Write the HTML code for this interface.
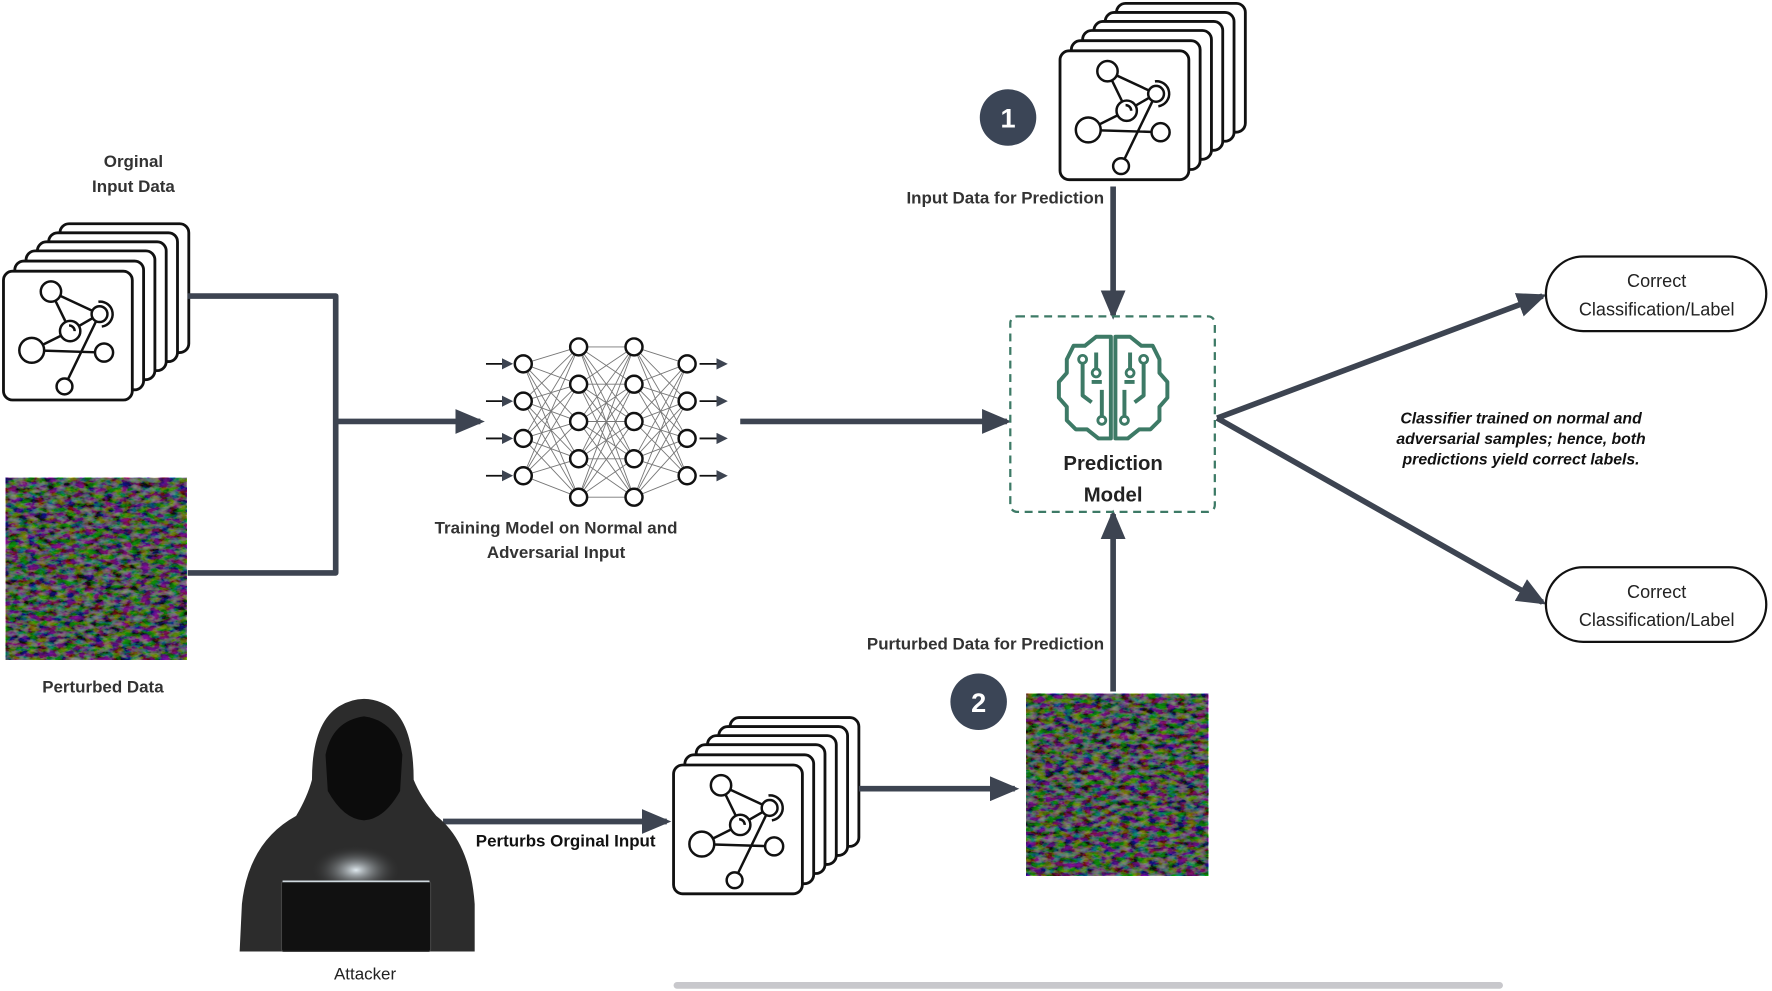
<!DOCTYPE html>
<html><head><meta charset="utf-8"><style>
html,body{margin:0;padding:0;background:#fff;width:1772px;height:991px;overflow:hidden}
svg text{font-family:"Liberation Sans",sans-serif}
</style></head><body>
<svg width="1772" height="991" viewBox="0 0 1568 877" xmlns="http://www.w3.org/2000/svg">
<defs>
<filter id="noise" x="0" y="0" width="100%" height="100%">
<feTurbulence type="fractalNoise" baseFrequency="0.12 0.22" numOctaves="3" seed="4" result="t"/>
<feColorMatrix in="t" type="matrix" values="1.6 0 0.3 0 -0.75  0 2.0 -0.3 0 -0.62  0.3 -0.4 2.0 0 -0.72  0 0 0 0 1"/>
</filter>
<marker id="ah" markerWidth="10" markerHeight="10" refX="8" refY="5" orient="auto" markerUnits="userSpaceOnUse" viewBox="0 0 10 10"><path d="M0,0 L10,5 L0,10 Z" fill="#3d4451"/></marker>
<marker id="ab" markerWidth="26" markerHeight="22" refX="22" refY="11" orient="auto" markerUnits="userSpaceOnUse" viewBox="0 0 26 22"><path d="M0,0 L26,11 L0,22 Z" fill="#3d4451"/></marker>
<g id="cardFront">
<rect x="0" y="0" width="114" height="114" rx="8" fill="#fff" stroke="#111" stroke-width="2.5"/>
<g stroke="#111" stroke-width="2.2" fill="none">
<line x1="42" y1="18" x2="85" y2="38"/><line x1="42" y1="18" x2="59" y2="53"/>
<line x1="59" y1="53" x2="25" y2="70"/><line x1="25" y1="70" x2="89" y2="72"/>
<line x1="59" y1="53" x2="85" y2="38"/><line x1="85" y1="38" x2="54" y2="102"/>
<circle cx="42" cy="18" r="9" fill="#fff"/><circle cx="85" cy="38" r="7" fill="#fff"/>
<path d="M84,27 A11,11 0 0 1 87,49"/>
<circle cx="59" cy="53" r="9" fill="#fff"/><path d="M58,48 A5,5 0 0 1 63,53"/>
<circle cx="25" cy="70" r="11" fill="#fff"/><circle cx="89" cy="72" r="8" fill="#fff"/>
<circle cx="54" cy="102" r="7" fill="#fff"/>
</g></g>
<g id="stack">
<rect x="50" y="-42" width="114" height="114" rx="8" fill="#fff" stroke="#111" stroke-width="2.5"/>
<rect x="40" y="-34" width="114" height="114" rx="8" fill="#fff" stroke="#111" stroke-width="2.5"/>
<rect x="30" y="-26" width="114" height="114" rx="8" fill="#fff" stroke="#111" stroke-width="2.5"/>
<rect x="20" y="-18" width="114" height="114" rx="8" fill="#fff" stroke="#111" stroke-width="2.5"/>
<rect x="10" y="-9" width="114" height="114" rx="8" fill="#fff" stroke="#111" stroke-width="2.5"/>
<use href="#cardFront"/>
</g>
<radialGradient id="glow" cx="0.5" cy="0.5" r="0.5"><stop offset="0" stop-color="#dfe9ef"/><stop offset="1" stop-color="#2a2a2a" stop-opacity="0"/></radialGradient>
</defs>

<use href="#stack" x="3" y="240"/>
<use href="#stack" x="938" y="45"/>
<use href="#stack" x="596" y="677"/>

<rect x="5" y="423" width="160" height="161" fill="#2a3326"/>
<rect x="5" y="423" width="160" height="161" filter="url(#noise)"/>
<rect x="5" y="423" width="160" height="161" fill="#1c2419" opacity="0.45"/>
<rect x="908" y="614" width="161" height="161" fill="#2a3326"/>
<rect x="908" y="614" width="161" height="161" filter="url(#noise)"/>
<rect x="908" y="614" width="161" height="161" fill="#1c2419" opacity="0.45"/>

<g stroke="#3d4451" stroke-width="5" fill="none" stroke-linejoin="round">
<path d="M166,262 H297 V507 H166"/>
<line x1="297" y1="373" x2="425" y2="373" marker-end="url(#ab)"/>
<line x1="655" y1="373" x2="891" y2="373" marker-end="url(#ab)"/>
<line x1="985" y1="165" x2="985" y2="279" marker-end="url(#ab)"/>
<line x1="985" y1="612" x2="985" y2="455" marker-end="url(#ab)"/>
<line x1="1077" y1="370" x2="1365" y2="262" marker-end="url(#ab)"/>
<line x1="1077" y1="370" x2="1365" y2="533" marker-end="url(#ab)"/>
<line x1="392" y1="727" x2="590" y2="727" marker-end="url(#ab)"/>
<line x1="760" y1="698" x2="898" y2="698" marker-end="url(#ab)"/>
</g>

<g stroke="#777" stroke-width="0.8">
<path d="M463,322 L512,307 M463,322 L512,340 M463,322 L512,373 M463,322 L512,406 M463,322 L512,440 M463,355 L512,307 M463,355 L512,340 M463,355 L512,373 M463,355 L512,406 M463,355 L512,440 M463,388 L512,307 M463,388 L512,340 M463,388 L512,373 M463,388 L512,406 M463,388 L512,440 M463,421 L512,307 M463,421 L512,340 M463,421 L512,373 M463,421 L512,406 M463,421 L512,440"/>
<path d="M512,307 L561,307 M512,307 L561,340 M512,307 L561,373 M512,307 L561,406 M512,307 L561,440 M512,340 L561,307 M512,340 L561,340 M512,340 L561,373 M512,340 L561,406 M512,340 L561,440 M512,373 L561,307 M512,373 L561,340 M512,373 L561,373 M512,373 L561,406 M512,373 L561,440 M512,406 L561,307 M512,406 L561,340 M512,406 L561,373 M512,406 L561,406 M512,406 L561,440 M512,440 L561,307 M512,440 L561,340 M512,440 L561,373 M512,440 L561,406 M512,440 L561,440"/>
<path d="M608,322 L561,307 M608,322 L561,340 M608,322 L561,373 M608,322 L561,406 M608,322 L561,440 M608,355 L561,307 M608,355 L561,340 M608,355 L561,373 M608,355 L561,406 M608,355 L561,440 M608,388 L561,307 M608,388 L561,340 M608,388 L561,373 M608,388 L561,406 M608,388 L561,440 M608,421 L561,307 M608,421 L561,340 M608,421 L561,373 M608,421 L561,406 M608,421 L561,440"/>
</g>
<g stroke="#111" stroke-width="1.6" marker-end="url(#ah)">
<line x1="430" y1="322" x2="452" y2="322"/><line x1="430" y1="355" x2="452" y2="355"/><line x1="430" y1="388" x2="452" y2="388"/><line x1="430" y1="421" x2="452" y2="421"/>
<line x1="619" y1="322" x2="642" y2="322"/><line x1="619" y1="355" x2="642" y2="355"/><line x1="619" y1="388" x2="642" y2="388"/><line x1="619" y1="421" x2="642" y2="421"/>
</g>
<g fill="#fff" stroke="#111" stroke-width="2.2">
<circle cx="463" cy="322" r="7.5"/><circle cx="463" cy="355" r="7.5"/><circle cx="463" cy="388" r="7.5"/><circle cx="463" cy="421" r="7.5"/>
<circle cx="512" cy="307" r="7.5"/><circle cx="512" cy="340" r="7.5"/><circle cx="512" cy="373" r="7.5"/><circle cx="512" cy="406" r="7.5"/><circle cx="512" cy="440" r="7.5"/>
<circle cx="561" cy="307" r="7.5"/><circle cx="561" cy="340" r="7.5"/><circle cx="561" cy="373" r="7.5"/><circle cx="561" cy="406" r="7.5"/><circle cx="561" cy="440" r="7.5"/>
<circle cx="608" cy="322" r="7.5"/><circle cx="608" cy="355" r="7.5"/><circle cx="608" cy="388" r="7.5"/><circle cx="608" cy="421" r="7.5"/>
</g>

<rect x="894" y="280" width="181" height="173" rx="6" fill="none" stroke="#3d7a66" stroke-width="2" stroke-dasharray="7,5"/>
<g stroke="#3d7a66" stroke-width="3.5" fill="none" stroke-linejoin="round">
<path d="M983,298 L970,298 L960,306 L950,306 L944,318 L944,330 L937,338 L937,352 L944,360 L944,372 L952,380 L962,380 L972,388 L983,388 Z"/>
<path d="M987,298 L1000,298 L1010,306 L1020,306 L1026,318 L1026,330 L1033,338 L1033,352 L1026,360 L1026,372 L1018,380 L1008,380 L998,388 L987,388 Z"/>
<path d="M970,312 V330 M958,318 V350 L966,356 M975,345 V372 M966,338 H975"/>
<path d="M1000,312 V330 M1012,318 V350 L1004,356 M995,345 V372 M1004,338 H995"/>
</g>
<g fill="#fff" stroke="#3d7a66" stroke-width="2.5">
<circle cx="970" cy="330" r="3.5"/><circle cx="958" cy="318" r="3.5"/><circle cx="975" cy="372" r="3.5"/>
<circle cx="1000" cy="330" r="3.5"/><circle cx="1012" cy="318" r="3.5"/><circle cx="995" cy="372" r="3.5"/>
</g>
<text x="985" y="416" text-anchor="middle" font-size="18" font-weight="bold" fill="#222">Prediction</text>
<text x="985" y="444" text-anchor="middle" font-size="18" font-weight="bold" fill="#222">Model</text>

<circle cx="892" cy="104" r="25" fill="#3b4556"/>
<text x="892" y="113" text-anchor="middle" font-size="24" font-weight="bold" fill="#fff">1</text>
<circle cx="866" cy="621" r="25" fill="#3b4556"/>
<text x="866" y="630" text-anchor="middle" font-size="24" font-weight="bold" fill="#fff">2</text>

<rect x="1368" y="227" width="195" height="66" rx="33" fill="#fff" stroke="#111" stroke-width="2"/>
<text x="1466" y="254" text-anchor="middle" font-size="16" fill="#222">Correct</text>
<text x="1466" y="279" text-anchor="middle" font-size="16" fill="#222">Classification/Label</text>
<rect x="1368" y="502" width="195" height="66" rx="33" fill="#fff" stroke="#111" stroke-width="2"/>
<text x="1466" y="529" text-anchor="middle" font-size="16" fill="#222">Correct</text>
<text x="1466" y="554" text-anchor="middle" font-size="16" fill="#222">Classification/Label</text>

<g>
<path d="M212,842 L214,800 Q220,745 262,722 Q272,705 276,690 Q276,640 300,625 Q322,612 344,625 Q366,640 366,690 Q372,705 386,722 Q416,745 420,800 L420,842 Z" fill="#2c2c2c"/>
<path d="M288,668 Q294,638 322,634 Q350,638 356,668 L354,700 Q340,725 322,726 Q304,725 290,700 Z" fill="#0c0c0c"/>
<ellipse cx="315" cy="770" rx="40" ry="22" fill="url(#glow)"/>
<rect x="249" y="780" width="132" height="62" rx="2" fill="#111" stroke="#444" stroke-width="1"/>
<line x1="250" y1="780" x2="380" y2="780" stroke="#cfd9df" stroke-width="1.5"/>
</g>

<rect x="596" y="869" width="734" height="6" rx="3" fill="#c8c8cc"/>

<g font-size="15" font-weight="bold" fill="#333">
<text x="118" y="148" text-anchor="middle">Orginal</text>
<text x="118" y="170" text-anchor="middle">Input Data</text>
<text x="91" y="613" text-anchor="middle">Perturbed Data</text>
<text x="492" y="472" text-anchor="middle">Training Model on  Normal and</text>
<text x="492" y="494" text-anchor="middle">Adversarial Input</text>
<text x="977" y="180" text-anchor="end">Input Data for Prediction</text>
<text x="977" y="575" text-anchor="end">Purturbed  Data for Prediction</text>
<text x="421" y="749" fill="#111">Perturbs Orginal Input</text>
</g>
<text x="323" y="867" text-anchor="middle" font-size="15" fill="#222">Attacker</text>
<g font-size="14" font-weight="bold" font-style="italic" fill="#111" text-anchor="middle">
<text x="1346" y="375">Classifier trained on normal and</text>
<text x="1346" y="393">adversarial samples; hence, both</text>
<text x="1346" y="411">predictions yield correct labels.</text>
</g>
</svg>
</body></html>
